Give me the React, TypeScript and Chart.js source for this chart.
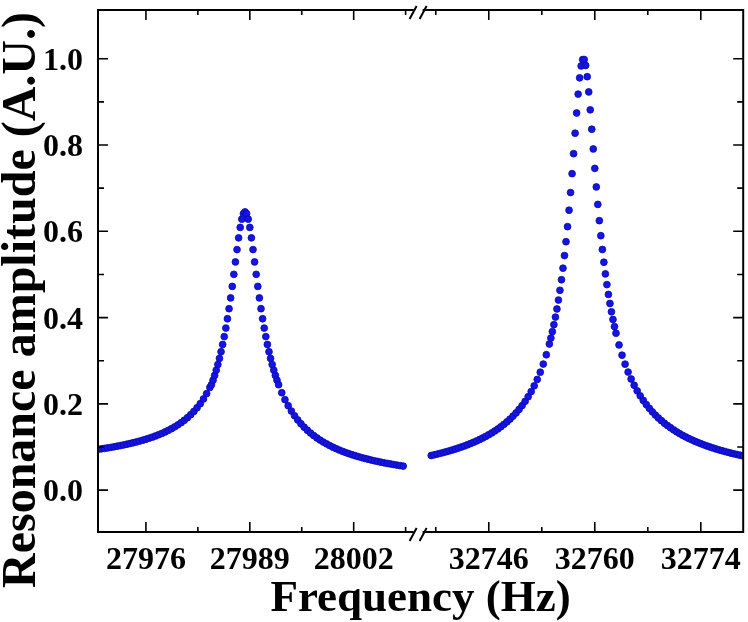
import React, { useEffect, useRef } from "react";
import { Chart, registerables } from "chart.js";

Chart.register(...registerables);

// left segment (first resonance)
const leftFreq = [
  27970.0, 27970.4, 27970.8, 27971.2, 27971.6, 27972.0, 27972.4, 27972.8, 27973.2, 27973.6,
  27974.0, 27974.4, 27974.8, 27975.2, 27975.6, 27976.0, 27976.4, 27976.8, 27977.2, 27977.6,
  27978.0, 27978.4, 27978.8, 27979.2, 27979.6, 27980.0, 27980.4, 27980.8, 27981.2, 27981.6,
  27982.0, 27982.4, 27982.8, 27983.2, 27983.6, 27984.0,
  27984.2, 27984.4, 27984.6, 27984.8, 27985.0, 27985.2, 27985.4, 27985.6, 27985.8, 27986.0,
  27986.2, 27986.4, 27986.6, 27986.8, 27987.0, 27987.2, 27987.4, 27987.6, 27987.8, 27988.0,
  27988.2, 27988.4, 27988.6, 27988.8, 27989.0, 27989.2, 27989.4, 27989.6, 27989.8, 27990.0,
  27990.2, 27990.4, 27990.6, 27990.8, 27991.0, 27991.2, 27991.4, 27991.6, 27991.8, 27992.0,
  27992.2, 27992.4, 27992.6,
  27993.0, 27993.4, 27993.8, 27994.2, 27994.6, 27995.0, 27995.4, 27995.8, 27996.2, 27996.6,
  27997.0, 27997.4, 27997.8, 27998.2, 27998.6, 27999.0, 27999.4, 27999.8, 28000.2, 28000.6,
  28001.0, 28001.4, 28001.8, 28002.2, 28002.6, 28003.0, 28003.4, 28003.8, 28004.2, 28004.6,
  28005.0, 28005.4, 28005.8, 28006.2, 28006.6, 28007.0, 28007.4, 28007.8, 28008.2,
];
const leftAmp = [
  0.0946, 0.0957, 0.0968, 0.098, 0.0992, 0.1005, 0.1019, 0.1033, 0.1048, 0.1064,
  0.1081, 0.1099, 0.1117, 0.1137, 0.1158, 0.118, 0.1204, 0.1229, 0.1256, 0.1285,
  0.1316, 0.135, 0.1386, 0.1425, 0.1467, 0.1514, 0.1564, 0.162, 0.1681, 0.1749,
  0.1825, 0.191, 0.2005, 0.2114, 0.2238, 0.2381,
  0.2444, 0.2548, 0.266, 0.2781, 0.2912, 0.3054, 0.3208, 0.3376, 0.3559, 0.3757,
  0.3973, 0.4206, 0.4456, 0.4723, 0.5002, 0.529, 0.5576, 0.5848, 0.609, 0.6282,
  0.6407, 0.645, 0.6407, 0.6282, 0.609, 0.5848, 0.5576, 0.529, 0.5002, 0.4723,
  0.4456, 0.4206, 0.3973, 0.3757, 0.3559, 0.3376, 0.3208, 0.3054, 0.2912, 0.2781,
  0.266, 0.2548, 0.2444,
  0.2259, 0.2098, 0.1958, 0.1834, 0.1724, 0.1627, 0.1539, 0.146, 0.1389, 0.1324,
  0.1265, 0.1211, 0.1161, 0.1115, 0.1073, 0.1033, 0.0996, 0.0962, 0.093, 0.09,
  0.0872, 0.0846, 0.0821, 0.0798, 0.0776, 0.0755, 0.0735, 0.0716, 0.0698, 0.0681,
  0.0665, 0.0649, 0.0634, 0.062, 0.0607, 0.0594, 0.0581, 0.057, 0.0558,
];

// right segment (second resonance)
const rightFreq = [
  32738.4, 32738.8, 32739.2, 32739.6, 32740.0, 32740.4, 32740.8, 32741.2, 32741.6, 32742.0,
  32742.4, 32742.8, 32743.2, 32743.6, 32744.0, 32744.4, 32744.8, 32745.2, 32745.6, 32746.0,
  32746.4, 32746.8, 32747.2, 32747.6, 32748.0, 32748.4, 32748.8, 32749.2, 32749.6, 32750.0,
  32750.4, 32750.8, 32751.2, 32751.6, 32752.0, 32752.4, 32752.8, 32753.2, 32753.6, 32754.0,
  32754.2, 32754.4, 32754.6, 32754.8, 32755.0, 32755.2, 32755.4, 32755.6, 32755.8, 32756.0,
  32756.2, 32756.4, 32756.6, 32756.8, 32757.0, 32757.2, 32757.4, 32757.6, 32757.8, 32758.0,
  32758.2, 32758.4, 32758.6, 32758.8, 32759.0, 32759.2, 32759.4, 32759.6, 32759.8, 32760.0,
  32760.2, 32760.4, 32760.6, 32760.8, 32761.0, 32761.2, 32761.4, 32761.6, 32761.8, 32762.0,
  32762.2, 32762.4, 32762.6, 32762.8,
  32763.2, 32763.6, 32764.0, 32764.4, 32764.8, 32765.2, 32765.6, 32766.0, 32766.4, 32766.8,
  32767.2, 32767.6, 32768.0, 32768.4, 32768.8, 32769.2, 32769.6, 32770.0, 32770.4, 32770.8,
  32771.2, 32771.6, 32772.0, 32772.4, 32772.8, 32773.2, 32773.6, 32774.0, 32774.4, 32774.8,
  32775.2, 32775.6, 32776.0, 32776.4, 32776.8, 32777.2, 32777.6, 32778.0, 32778.4, 32778.8,
  32779.2, 32779.6,
];
const rightAmp = [
  0.0803, 0.082, 0.0836, 0.0854, 0.0872, 0.0891, 0.0911, 0.0932, 0.0954, 0.0977,
  0.1001, 0.1026, 0.1053, 0.1081, 0.111, 0.1141, 0.1174, 0.1209, 0.1246, 0.1285,
  0.1327, 0.1372, 0.1419, 0.147, 0.1525, 0.1584, 0.1647, 0.1716, 0.1791, 0.1872,
  0.1961, 0.2059, 0.2167, 0.2286, 0.2419, 0.2567, 0.2734, 0.2923, 0.3139, 0.3388,
  0.3526, 0.3675, 0.3836, 0.4011, 0.42, 0.4407, 0.4632, 0.4877, 0.5145, 0.5438,
  0.5759, 0.6108, 0.6488, 0.6899, 0.7337, 0.78, 0.8274, 0.8742, 0.918, 0.9557,
  0.9833, 0.9981, 0.9982, 0.9844, 0.9585, 0.9231, 0.8815, 0.8366, 0.7909, 0.7459,
  0.7029, 0.6624, 0.6247, 0.5898, 0.5578, 0.5283, 0.5013, 0.4765, 0.4537, 0.4327,
  0.4134, 0.3956, 0.3792, 0.3639,
  0.3366, 0.3129, 0.2921, 0.2738, 0.2577, 0.2432, 0.2303, 0.2186, 0.208, 0.1984,
  0.1896, 0.1815, 0.1741, 0.1673, 0.161, 0.1551, 0.1497, 0.1446, 0.1398, 0.1353,
  0.1311, 0.1272, 0.1235, 0.12, 0.1167, 0.1135, 0.1106, 0.1078, 0.1051, 0.1025,
  0.1001, 0.0978, 0.0956, 0.0934, 0.0914, 0.0895, 0.0876, 0.0858, 0.0841, 0.0825,
  0.0809, 0.0794,
];

// ticks
const leftMajor = [27976, 27989, 28002];
const leftMinor = [27982.5, 27995.5, 28008.5];
const rightMajor = [32746, 32760, 32774];
const rightMinor = [32739, 32753, 32767];
const yMajor = [0, 0.2, 0.4, 0.6, 0.8, 1.0];
const yMinor = [0.1, 0.3, 0.5, 0.7, 0.9];

const FONT = "'Liberation Serif', 'Times New Roman', serif";
const DOT = "#1414e6";

const axesPlugin = {
  id: "brokenAxes",
  afterDatasetsDraw(chart: any) {
    const { ctx, chartArea: a } = chart;
    const sx1 = chart.scales.x1;
    const sx2 = chart.scales.x2;
    const sy = chart.scales.y;
    ctx.save();
    ctx.strokeStyle = "#000";
    ctx.fillStyle = "#000";

    // frame
    ctx.lineWidth = 2;
    ctx.strokeRect(a.left, a.top, a.right - a.left, a.bottom - a.top);

    // x ticks, bottom and mirrored on top
    ctx.lineWidth = 1.6;
    const xTick = (px: number, len: number) => {
      ctx.beginPath();
      ctx.moveTo(px, a.bottom);
      ctx.lineTo(px, a.bottom - len);
      ctx.moveTo(px, a.top);
      ctx.lineTo(px, a.top + len);
      ctx.stroke();
    };
    leftMajor.forEach((v) => xTick(sx1.getPixelForValue(v), 10));
    leftMinor.forEach((v) => xTick(sx1.getPixelForValue(v), 5));
    rightMajor.forEach((v) => xTick(sx2.getPixelForValue(v), 10));
    rightMinor.forEach((v) => xTick(sx2.getPixelForValue(v), 5));

    // y ticks, left and mirrored on right
    const yTick = (py: number, len: number) => {
      ctx.beginPath();
      ctx.moveTo(a.left, py);
      ctx.lineTo(a.left + len, py);
      ctx.moveTo(a.right, py);
      ctx.lineTo(a.right - len, py);
      ctx.stroke();
    };
    yMajor.forEach((v) => yTick(sy.getPixelForValue(v), 10));
    yMinor.forEach((v) => yTick(sy.getPixelForValue(v), 6));

    // tick labels
    ctx.font = `bold 32px ${FONT}`;
    ctx.textAlign = "center";
    ctx.textBaseline = "alphabetic";
    leftMajor.forEach((v) => ctx.fillText(String(v), sx1.getPixelForValue(v), a.bottom + 37));
    rightMajor.forEach((v) => ctx.fillText(String(v), sx2.getPixelForValue(v), a.bottom + 37));
    ctx.textAlign = "right";
    yMajor.forEach((v) => ctx.fillText(v.toFixed(1), a.left - 15, sy.getPixelForValue(v) + 11));

    // axis break marks
    const bx = sx1.right;
    [a.top, a.bottom].forEach((ay: number) => {
      ctx.fillStyle = "#fff";
      ctx.fillRect(bx - 4, ay - 2, 9, 4);
      ctx.strokeStyle = "#000";
      ctx.lineWidth = 2;
      [bx - 4.5, bx + 5.5].forEach((cx) => {
        ctx.beginPath();
        ctx.moveTo(cx - 3.5, ay + 9);
        ctx.lineTo(cx + 3.5, ay - 4);
        ctx.stroke();
      });
    });

    // axis titles
    ctx.fillStyle = "#000";
    ctx.textAlign = "center";
    ctx.font = `bold 45px ${FONT}`;
    ctx.fillText("Frequency (Hz)", (a.left + a.right) / 2, 611);
    ctx.save();
    ctx.translate(35, 300);
    ctx.rotate(-Math.PI / 2);
    ctx.font = `bold 48px ${FONT}`;
    ctx.fillText("Resonance amplitude (A.U.)", 0, 0);
    ctx.restore();

    ctx.restore();
  },
};

const App = () => {
  const canvasRef = useRef<HTMLCanvasElement>(null);
  const chartRef = useRef<Chart>();

  useEffect(() => {
    const ctx = canvasRef.current!.getContext("2d");
    if (chartRef.current) chartRef.current.destroy();
    if (!ctx) return;

    const pointStyle = {
      showLine: false,
      pointRadius: 3.4,
      pointBackgroundColor: DOT,
      pointBorderColor: "#0a0aa8",
      pointBorderWidth: 0.8,
      clip: 0,
    };

    chartRef.current = new Chart(ctx, {
      type: "scatter",
      data: {
        datasets: [
          {
            label: "left",
            data: leftFreq.map((f, i) => ({ x: f, y: leftAmp[i] })),
            xAxisID: "x1",
            yAxisID: "y",
            ...pointStyle,
          },
          {
            label: "right",
            data: rightFreq.map((f, i) => ({ x: f, y: rightAmp[i] })),
            xAxisID: "x2",
            yAxisID: "y",
            ...pointStyle,
          },
        ],
      },
      options: {
        animation: false,
        responsive: true,
        maintainAspectRatio: false,
        layout: { padding: { left: 98, top: 10, right: 4, bottom: 90 } },
        plugins: { legend: { display: false }, tooltip: { enabled: false } },
        scales: {
          x1: {
            type: "linear",
            position: "bottom",
            stack: "freq",
            stackWeight: 320,
            min: 27970,
            max: 28010,
            display: false,
          },
          x2: {
            type: "linear",
            position: "bottom",
            stack: "freq",
            stackWeight: 326,
            min: 32736.6,
            max: 32779.6,
            display: false,
          },
          y: {
            type: "linear",
            min: -0.097,
            max: 1.113,
            display: false,
          },
        },
      },
      plugins: [axesPlugin],
    });

    return () => {
      if (chartRef.current) chartRef.current.destroy();
    };
  }, []);

  return (
    <div
      style={{
        position: "fixed",
        left: 0,
        top: 0,
        width: "748px",
        height: "622px",
        background: "#fff",
      }}
    >
      <canvas ref={canvasRef} />
    </div>
  );
};

export default App;
